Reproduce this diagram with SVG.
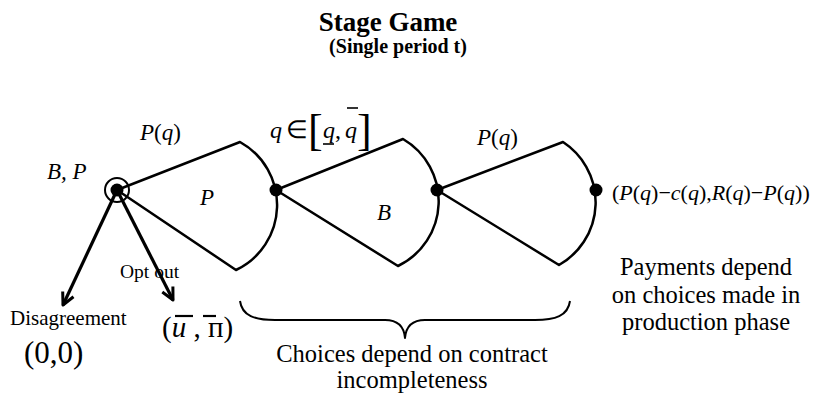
<svg xmlns="http://www.w3.org/2000/svg" width="827" height="397" viewBox="0 0 827 397">
<rect width="827" height="397" fill="#fff"/>
<g id="title" font-weight="bold" text-anchor="middle">
<text x="388" y="31" font-size="27" font-family="Liberation Serif">Stage Game</text>
<text x="398" y="53" font-size="20" font-family="Liberation Serif">(Single period t)</text>
</g>
<g id="connectors" fill="none" stroke="#000" stroke-width="2.5" stroke-linejoin="round">
<path d="M117,190 L240,142 A72,72 0 0 1 236,270 Z"/>
<path d="M276,190 L403,139 A72,72 0 0 1 398,266 Z"/>
<path d="M437,190 L563,142 A72,72 0 0 1 559,265 Z"/>
<line x1="117" y1="190" x2="63" y2="305" stroke-width="3.2"/>
<polyline points="73.5,296.7 63,305 62.7,291.5" stroke-width="3"/>
<line x1="117" y1="190" x2="173" y2="300" stroke-width="3.2"/>
<polyline points="172.9,286.6 173,300 162.3,292" stroke-width="3"/>
<path d="M240,301 C242,316 255,320 275,320 L385,320 C398,320 404,326 405,338 C406,326 412,320 425,320 L535,320 C555,320 568,316 570,301" stroke-width="2"/>
</g>
<g id="node-root">
<circle cx="117" cy="190" r="12" fill="none" stroke="#000" stroke-width="2"/>
<circle cx="117" cy="190" r="6.5" fill="#000"/>
<text x="47" y="179" font-size="23" font-style="italic" font-family="Liberation Serif">B, P</text>
</g>
<g id="node-P">
<circle cx="276" cy="190" r="6.5" fill="#000"/>
<text x="140" y="140" font-size="23" font-style="italic" font-family="Liberation Serif">P<tspan font-style="normal">(</tspan>q<tspan font-style="normal">)</tspan></text>
<text x="200" y="205" font-size="23" font-style="italic" font-family="Liberation Serif">P</text>
</g>
<g id="node-B">
<circle cx="437" cy="190" r="6.5" fill="#000"/>
<text x="270" y="138" font-size="24" font-family="Liberation Serif"><tspan font-style="italic">q</tspan><tspan x="286" font-size="25">&#8712;</tspan><tspan x="308" y="145" font-size="44">[</tspan><tspan x="323" y="138" font-style="italic">q</tspan><tspan x="335">,</tspan><tspan x="345" font-style="italic">q</tspan><tspan x="357" y="145" font-size="44">]</tspan></text>
<line x1="323" y1="144" x2="334" y2="144" stroke="#000" stroke-width="1.6"/>
<line x1="347" y1="108" x2="358" y2="108" stroke="#000" stroke-width="1.6"/>
<text x="377" y="220" font-size="23" font-style="italic" font-family="Liberation Serif">B</text>
</g>
<g id="node-end">
<circle cx="596" cy="190" r="6.5" fill="#000"/>
<text x="477" y="145" font-size="23" font-style="italic" font-family="Liberation Serif">P<tspan font-style="normal">(</tspan>q<tspan font-style="normal">)</tspan></text>
<text x="612" y="200" font-size="22" font-family="Liberation Serif">(<tspan font-style="italic">P</tspan>(<tspan font-style="italic">q</tspan>)&#8722;<tspan font-style="italic">c</tspan>(<tspan font-style="italic">q</tspan>),<tspan font-style="italic">R</tspan>(<tspan font-style="italic">q</tspan>)&#8722;<tspan font-style="italic">P</tspan>(<tspan font-style="italic">q</tspan>))</text>
<text x="706" y="275" font-size="24.5" text-anchor="middle" font-family="Liberation Serif">Payments depend</text>
<text x="706" y="303" font-size="24.5" text-anchor="middle" font-family="Liberation Serif">on choices made in</text>
<text x="706" y="330" font-size="24.5" text-anchor="middle" font-family="Liberation Serif">production phase</text>
</g>
<g id="node-disagree">
<text x="10" y="325" font-size="21" font-family="Liberation Serif">Disagreement</text>
<text x="24" y="363" font-size="31" font-family="Liberation Serif">(0,0)</text>
</g>
<g id="node-optout">
<text x="120" y="278" font-size="19.5" font-family="Liberation Serif">Opt out</text>
<text x="162" y="337" font-size="29" font-family="Liberation Serif">(<tspan font-style="italic">u</tspan> , <tspan>&#1087;</tspan>)</text>
<line x1="175" y1="316" x2="193" y2="316" stroke="#000" stroke-width="2.2"/>
<line x1="203" y1="316" x2="216" y2="316" stroke="#000" stroke-width="2.2"/>
</g>
<g id="brace-label">
<text x="412" y="362" font-size="24.5" text-anchor="middle" font-family="Liberation Serif">Choices depend on contract</text>
<text x="412" y="388" font-size="24.5" text-anchor="middle" font-family="Liberation Serif">incompleteness</text>
</g>
</svg>
